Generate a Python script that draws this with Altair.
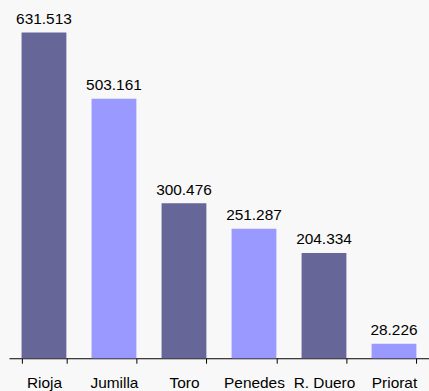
import altair as alt
import pandas as pd

regions = ["Rioja", "Jumilla", "Toro", "Penedes", "R. Duero", "Priorat"]
values = [631.513, 503.161, 300.476, 251.287, 204.334, 28.226]
labels = ["631.513", "503.161", "300.476", "251.287", "204.334", "28.226"]
shade = ["a", "b", "a", "b", "a", "b"]

df = pd.DataFrame({"region": regions, "value": values, "label": labels, "shade": shade})

x = alt.X("region:N", sort=regions, title=None,
          scale=alt.Scale(paddingInner=0.36, paddingOuter=0.18),
          axis=alt.Axis(labelAngle=0, labelFont="Liberation Sans", labelFontSize=15.5,
                        labelColor="#000000", labelPadding=12, tickBand="extent",
                        tickSize=5, tickColor="#000000", domainColor="#000000",
                        labelFontWeight="normal"))
y = alt.Y("value:Q", scale=alt.Scale(domain=[0, 693], nice=False), axis=None)

bars = alt.Chart(df).mark_bar().encode(
    x=x, y=y,
    color=alt.Color("shade:N", scale=alt.Scale(domain=["a", "b"], range=["#666699", "#9999FF"]), legend=None),
)
text = alt.Chart(df).mark_text(baseline="bottom", dy=-5.5, font="Liberation Sans", fontSize=15.5, color="#000000").encode(
    x=alt.X("region:N", sort=regions), y=y, text="label:N"
)

chart = (bars + text).properties(
    width=422, height=359,
    background="#f8f8f8",
    padding={"left": 9, "top": 0, "right": 0, "bottom": 32},
    autosize=alt.AutoSizeParams(type="none"),
).configure_view(stroke=None)

chart.save("out.html", embed_options={"renderer": "svg", "actions": False})
